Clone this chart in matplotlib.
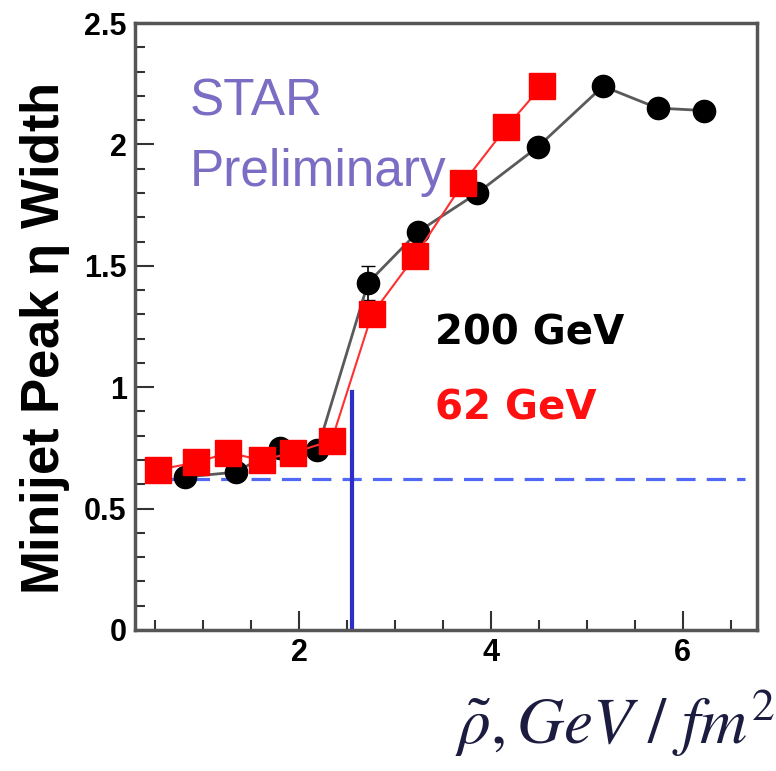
import matplotlib
matplotlib.use('Agg')
import matplotlib.pyplot as plt
from matplotlib.ticker import MultipleLocator

# 200 GeV points (black circles)
rho_200 = [0.81, 1.34, 1.80, 2.19, 2.72, 3.24, 3.86, 4.49, 5.17, 5.74, 6.22]
width_200 = [0.63, 0.65, 0.75, 0.74, 1.43, 1.64, 1.80, 1.99, 2.24, 2.15, 2.14]
err_200 = [0.01, 0.01, 0.02, 0.02, 0.07, 0.03, 0.02, 0.02, 0.03, 0.02, 0.03]

# 62 GeV points (red squares)
rho_62 = [0.53, 0.93, 1.26, 1.61, 1.94, 2.34, 2.76, 3.21, 3.71, 4.16, 4.53]
width_62 = [0.66, 0.69, 0.73, 0.70, 0.73, 0.78, 1.30, 1.54, 1.84, 2.07, 2.24]

# reference lines
baseline_width = 0.62
baseline_range = [0.55, 6.65]
transition_rho = 2.55
transition_top = 0.98

plt.rcParams['mathtext.fontset'] = 'stix'

fig = plt.figure(figsize=(7.76, 7.71), dpi=100)
ax = fig.add_axes([0.174, 0.183, 0.802, 0.787])

ax.plot(baseline_range, [baseline_width, baseline_width], color='#5068f5',
        lw=2.3, dashes=(6, 3.5), zorder=1)
ax.plot([transition_rho, transition_rho], [0, transition_top], color='#2d2dc8',
        lw=3, zorder=2)

ax.errorbar(rho_200, width_200, yerr=err_200, color='#5a5a5a', lw=2,
            marker='o', ms=16, mfc='black', mec='black', ecolor='black',
            elinewidth=1.2, capsize=5, zorder=3)
ax.plot(rho_62, width_62, color='#ff3030', lw=1.5, marker='s', ms=19,
        mfc='#ff0000', mec='#ff0000', zorder=4)

ax.text(0.86, 2.12, 'STAR', color='#7b6cc4', fontsize=37,
        family='Liberation Sans')
ax.text(0.86, 1.83, 'Preliminary', color='#7b6cc4', fontsize=37,
        family='Liberation Sans')
ax.text(3.42, 1.175, '200 GeV', color='black', fontsize=29,
        fontweight='bold', family='DejaVu Sans')
ax.text(3.42, 0.865, '62 GeV', color='#ff1010', fontsize=29,
        fontweight='bold', family='DejaVu Sans')

ax.set_xlim(0.29, 6.78)
ax.set_ylim(0, 2.5)
ax.xaxis.set_major_locator(MultipleLocator(2))
ax.xaxis.set_minor_locator(MultipleLocator(0.5))
ax.yaxis.set_major_locator(MultipleLocator(0.5))
ax.yaxis.set_minor_locator(MultipleLocator(0.1))
ax.set_xticks([2, 4, 6])
ax.set_xticklabels(['2', '4', '6'])
ax.set_yticks([0, 0.5, 1, 1.5, 2, 2.5])
ax.set_yticklabels(['0', '0.5', '1', '1.5', '2', '2.5'])

ax.tick_params(which='both', direction='in', top=False, right=False,
               color='#333333', width=1.5)
ax.tick_params(which='major', length=14, pad=6)
ax.tick_params(which='minor', length=7)
for lab in ax.get_xticklabels() + ax.get_yticklabels():
    lab.set_fontfamily('Liberation Sans')
    lab.set_fontweight('bold')
    lab.set_fontsize(22)

for sp in ax.spines.values():
    sp.set_color('#555555')
    sp.set_linewidth(2.5)

fig.text(0.058, 0.56, r'Minijet Peak $\mathregular{\eta}$ Width', rotation=90,
         ha='center', va='center', fontsize=38, fontweight='bold',
         family='Liberation Sans')
fig.text(0.998, 0.035, r'$\tilde{\rho}, GeV\ /\ fm^2$', ha='right',
         va='baseline', fontsize=47, color='#1c1c40')

fig.savefig('out.png', dpi=100)
